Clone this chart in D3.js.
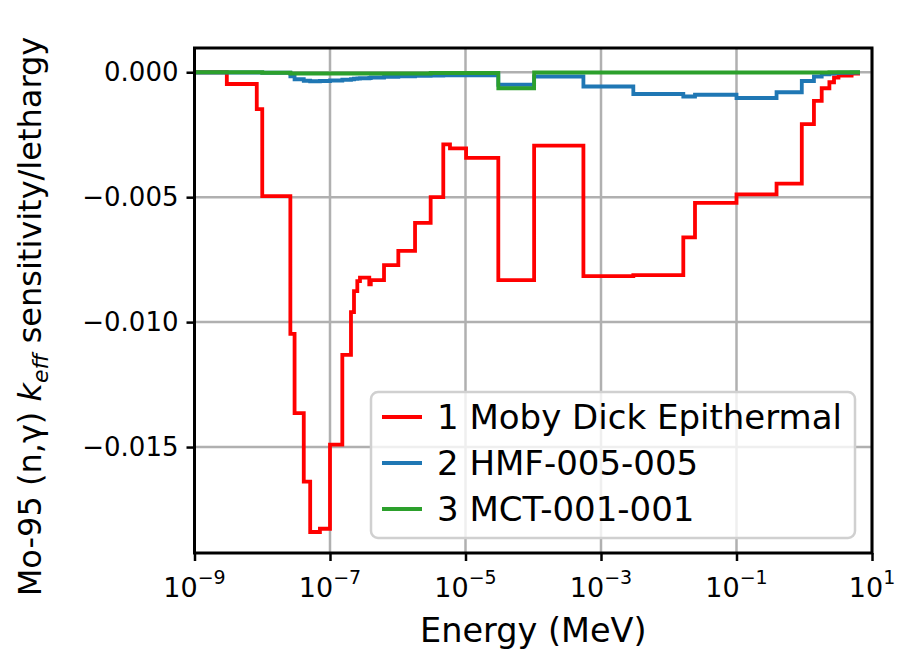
<!DOCTYPE html>
<html>
<head>
<meta charset="utf-8">
<script src="https://cdn.jsdelivr.net/npm/d3@7"></script>
<style>
  body { margin: 0; background: white; }
  text { font-family: "DejaVu Sans", sans-serif; }
</style>
</head>
<body>
<div id="chart-area"></div>
<script>
// group boundaries (MeV), shared by every case
var edges = [1e-9, 3e-9, 8.3e-9, 1e-8, 2.6e-8, 3e-8, 4.1e-8, 5.1e-8, 7.1e-8, 1e-7,
  1.52e-7, 2.04e-7, 2.26e-7, 2.53e-7, 2.77e-7, 3.8e-7, 4e-7, 6.27e-7, 1.02e-6, 1.8e-6,
  3.06e-6, 4.7e-6, 5.9e-6, 1.02e-5, 3.05e-5, 1.03e-4, 5.5e-4, 3e-3, 1.64e-2, 2.44e-2,
  0.1, 0.39, 0.92, 1.39, 1.81, 2.35, 2.75, 3.2, 5, 6.65];

var mobyDick = [0, -0.00047, -0.00148, -0.00496, -0.01047, -0.01364, -0.01638, -0.0184, -0.01827, -0.0149,
  -0.01131, -0.0096, -0.00876, -0.00836, -0.00822, -0.00849, -0.00832, -0.00772, -0.00715, -0.00603,
  -0.005, -0.00289, -0.00305, -0.00343, -0.00832, -0.00294, -0.00816, -0.00812, -0.00661, -0.00523,
  -0.00489, -0.00446, -0.00208, -0.00115, -0.00064, -0.0004, -0.00021, -0.00013, -0.00005];

var hmf005 = [-0.00001, -0.00001, -0.00001, -0.00002, -0.00016, -0.00028, -0.00034, -0.00036, -0.00035, -0.00033,
  -0.0003, -0.00028, -0.00026, -0.00025, -0.00024, -0.00023, -0.00021, -0.00018, -0.00016, -0.00014,
  -0.00013, -0.00012, -0.00012, -0.00012, -0.0005, -0.00017, -0.00057, -0.00087, -0.00097, -0.0009,
  -0.00103, -0.0008, -0.00035, -0.00017, -0.00008, -0.00005, -0.00003, -0.00002, -0.00001];

var mct001 = [0, 0, 0, -0.00002, -0.00005, -0.00005, -0.00005, -0.00005, -0.00005, -0.00005,
  -0.00005, -0.00005, -0.00005, -0.00005, -0.00005, -0.00005, -0.00005, -0.00005, -0.00005, -0.00005,
  -0.00003, -0.00003, -0.00003, -0.00003, -0.00064, -0.00001, -0.00001, -0.00001, -0.00001, -0.00001,
  -0.00001, -0.00001, -0.00001, -0.00001, -0.00001, 0, 0, 0, 0];

var seriesNames = ["1 Moby Dick Epithermal", "2 HMF-005-005", "3 MCT-001-001"];
var seriesColors = ["#ff0000", "#1f77b4", "#2ca02c"];
var allSeries = [mobyDick, hmf005, mct001];

var xTicks = [1e-9, 1e-7, 1e-5, 1e-3, 1e-1, 1e1];
var yTicks = [0, -0.005, -0.010, -0.015];

var svg = d3.select("#chart-area")
  .append("svg")
  .attr("width", 904)
  .attr("height", 651);

var margin = { top: 48, right: 32, bottom: 98, left: 194.5 };
var width = 904 - margin.left - margin.right;
var height = 651 - margin.top - margin.bottom;

var g = svg.append("g")
  .attr("transform", "translate(" + margin.left + "," + margin.top + ")");

var x = d3.scaleLog()
  .domain([1e-9, 1e1])
  .range([0, width]);

var y = d3.scaleLinear()
  .domain([-0.01924, 0.00097])
  .range([height, 0]);

// grid
g.selectAll(".xgrid")
  .data(xTicks)
  .enter()
  .append("line")
  .attr("x1", d => x(d)).attr("x2", d => x(d))
  .attr("y1", 0).attr("y2", height)
  .attr("stroke", "#b0b0b0")
  .attr("stroke-width", 2.5);

g.selectAll(".ygrid")
  .data(yTicks)
  .enter()
  .append("line")
  .attr("x1", 0).attr("x2", width)
  .attr("y1", d => y(d)).attr("y2", d => y(d))
  .attr("stroke", "#b0b0b0")
  .attr("stroke-width", 2.5);

// step lines
var line = d3.line()
  .x(d => x(d[0]))
  .y(d => y(d[1]))
  .curve(d3.curveStepAfter);

allSeries.forEach((vals, i) => {
  var pts = vals.map((v, j) => [edges[j], v]);
  pts.push([edges[edges.length - 1], vals[vals.length - 1]]);
  g.append("path")
    .datum(pts)
    .attr("fill", "none")
    .attr("stroke", seriesColors[i])
    .attr("stroke-width", 3.8)
    .attr("d", line);
});

// axes
var xAxisCall = d3.axisBottom(x)
  .tickValues(xTicks)
  .tickSize(8)
  .tickFormat("");
var xAxis = g.append("g")
  .attr("transform", "translate(0," + height + ")")
  .call(xAxisCall);

var yAxisCall = d3.axisLeft(y)
  .tickValues(yTicks)
  .tickSize(8)
  .tickFormat(d => d === 0 ? "0.000" : "\u2212" + Math.abs(d).toFixed(3));
var yAxis = g.append("g")
  .call(yAxisCall);

yAxis.selectAll("text")
  .attr("font-size", "26px")
  .attr("fill", "black")
  .attr("x", -16);

g.selectAll(".domain").remove();
g.selectAll(".tick line")
  .attr("stroke", "black")
  .attr("stroke-width", 2.5);

// x tick labels with superscripts
xTicks.forEach(t => {
  var ex = Math.round(Math.log10(t));
  var txt = g.append("text")
    .attr("x", x(t))
    .attr("y", height + 44)
    .attr("text-anchor", "middle")
    .attr("font-size", "27px")
    .attr("fill", "black");
  txt.append("tspan").text("10");
  txt.append("tspan")
    .attr("dy", -13)
    .attr("font-size", "19px")
    .text(ex < 0 ? "\u2212" + Math.abs(ex) : String(ex));
});

// frame
g.append("rect")
  .attr("width", width)
  .attr("height", height)
  .attr("fill", "none")
  .attr("stroke", "black")
  .attr("stroke-width", 3);

// axis labels
g.append("text")
  .attr("x", width / 2)
  .attr("y", height + 89)
  .attr("text-anchor", "middle")
  .attr("font-size", "33.5px")
  .attr("fill", "black")
  .text("Energy (MeV)");

var yl = g.append("text")
  .attr("transform", "rotate(-90)")
  .attr("x", -(height / 2) - 16)
  .attr("y", -154)
  .attr("text-anchor", "middle")
  .attr("font-size", "32px")
  .attr("fill", "black");
yl.append("tspan").text("Mo-95 (n,\u03b3) ");
yl.append("tspan").attr("font-style", "italic").text("k");
yl.append("tspan").attr("font-style", "italic").attr("font-size", "22px").attr("dy", 7).text("eff");
yl.append("tspan").attr("dy", -7).text(" sensitivity/lethargy");

// legend
var leg = g.append("g")
  .attr("transform", "translate(" + (371 - margin.left) + "," + (392 - margin.top) + ")");
leg.append("rect")
  .attr("width", 484)
  .attr("height", 146)
  .attr("rx", 7)
  .attr("fill", "white")
  .attr("fill-opacity", 0.8)
  .attr("stroke", "#d0d0d0")
  .attr("stroke-width", 2.5);

seriesNames.forEach((name, i) => {
  var yy = 25 + i * 46;
  leg.append("line")
    .attr("x1", 11).attr("x2", 51)
    .attr("y1", yy).attr("y2", yy)
    .attr("stroke", seriesColors[i])
    .attr("stroke-width", 3.8);
  leg.append("text")
    .attr("x", 66)
    .attr("y", yy + 12)
    .attr("font-size", "34px")
    .attr("fill", "black")
    .text(name);
});
</script>
</body>
</html>
